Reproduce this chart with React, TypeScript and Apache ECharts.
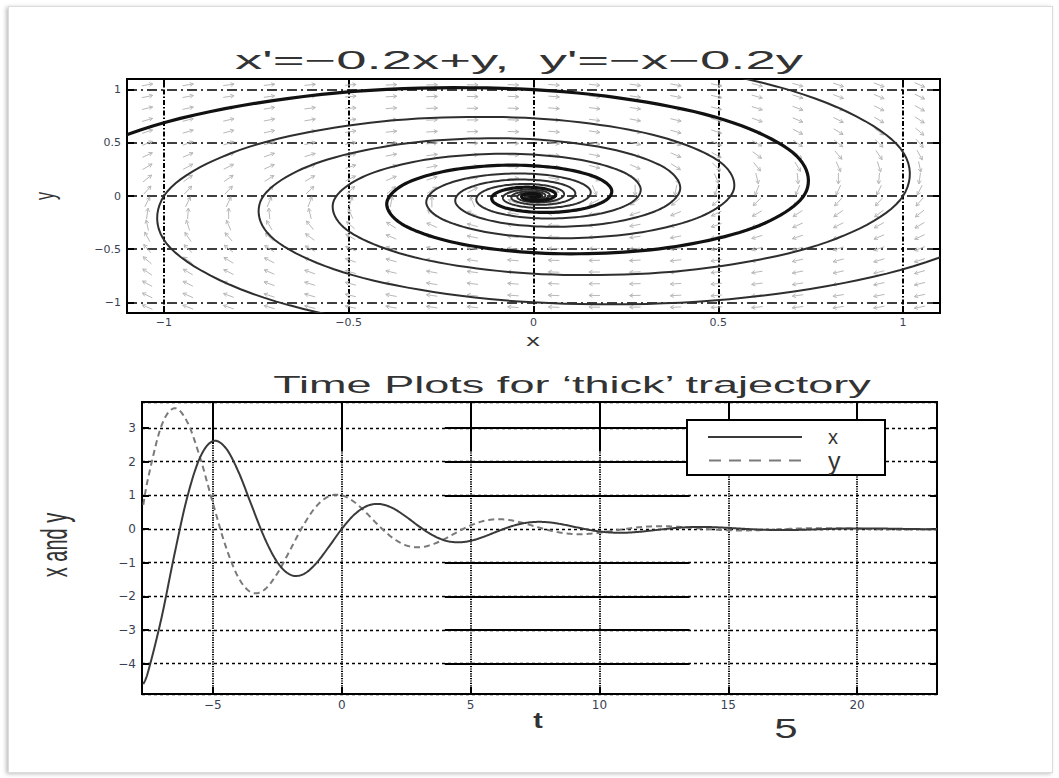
import React, { useEffect, useRef } from "react";
import * as echarts from "echarts";

// ---- time samples of the 'thick' trajectory ----
const tValues = [
  -7.7, -7.5, -7, -6.5, -6, -5.5, -5, -4.5, -4, -3.5, -3, -2.5, -2, -1.5, -1, -0.5,
  0, 0.5, 1, 1.5, 2, 2.5, 3, 3.5, 4, 4.5, 5, 5.5, 6, 6.5, 7, 7.5,
  8, 8.5, 9, 9.5, 10, 10.5, 11, 11.5, 12, 12.5, 13, 13.5, 14, 14.5, 15, 15.5,
  16, 16.5, 17, 17.5, 18, 18.5, 19, 19.5, 20, 20.5, 21, 21.5, 22, 22.5, 23, 23.5,
];
const xValues = [
  -4.609, -4.204, -2.664, -0.789, 0.928, 2.119, 2.607, 2.404, 1.684, 0.706, -0.257, -0.987, -1.357, -1.347, -1.028, -0.53,
  0, 0.434, 0.689, 0.739, 0.61, 0.363, 0.077, -0.174, -0.34, -0.397, -0.353, -0.235, -0.084, 0.059, 0.162, 0.209,
  0.2, 0.146, 0.068, -0.011, -0.074, -0.108, -0.111, -0.088, -0.049, -0.005, 0.031, 0.054, 0.06, 0.051, 0.032, 0.009,
  -0.012, -0.026, -0.032, -0.03, -0.021, -0.009, 0.003, 0.012, 0.017, 0.017, 0.013, 0.006, 0.0, -0.005, -0.009, -0.009,
];
const yValues = [
  0.716, 1.553, 3.057, 3.583, 3.188, 2.129, 0.771, -0.518, -1.455, -1.886, -1.804, -1.321, -0.621, 0.095, 0.66, 0.97,
  1, 0.794, 0.442, 0.052, -0.279, -0.486, -0.543, -0.465, -0.294, -0.086, 0.104, 0.236, 0.289, 0.266, 0.186, 0.077,
  -0.029, -0.11, -0.151, -0.149, -0.114, -0.058, 0.0, 0.048, 0.077, 0.082, 0.067, 0.04, 0.008, -0.02, -0.038, -0.044,
  -0.039, -0.026, -0.009, 0.007, 0.018, 0.023, 0.022, 0.016, 0.008, -0.001, -0.008, -0.012, -0.012, -0.01, -0.005, -0.001,
];

// ---- tick labels ----
const phaseTicks = [-1, -0.5, 0, 0.5, 1];
const timeTicks = [-5, 0, 5, 10, 15, 20];
const xyTicks = [-4, -3, -2, -1, 0, 1, 2, 3];

// ---- direction field (x' = -0.2x + y, y' = -x - 0.2y) sample grid ----
const systemMatrix = [
  [-0.2, 1],
  [-1, -0.2],
];
const fieldXs = [
  -1.045, -0.935, -0.825, -0.715, -0.605, -0.495, -0.385, -0.275, -0.165, -0.055,
  0.055, 0.165, 0.275, 0.385, 0.495, 0.605, 0.715, 0.825, 0.935, 1.045,
];
const fieldYs = [
  -1.045, -0.935, -0.825, -0.715, -0.605, -0.495, -0.385, -0.275, -0.165, -0.055,
  0.055, 0.165, 0.275, 0.385, 0.495, 0.605, 0.715, 0.825, 0.935, 1.045,
];

// ---- solid grid runs visible in the scanned time plot: [t1, v1, t2, v2] ----
const solidGridRuns = [
  [-5, 3.77, -5, 2.55],
  [0, 3.77, 0, 2.3],
  [5, 3.77, 5, 2.3],
  [10, 3.77, 10, 2.3],
  [15, 3.77, 15, 3.2],
  [20, 3.77, 20, 3.2],
  [4, 3, 13.4, 3],
  [4, 2, 13.4, 2],
  [4, 1, 13.5, 1],
  [4, 0, 23.2, 0],
  [4, -1, 13.5, -1],
  [4, -2, 13.5, -2],
  [4, -3, 13.5, -3],
  [4, -4, 13.5, -4],
];

const FONT = "'Liberation Sans', Arial, Helvetica, sans-serif";
const TICK_FONT = "'DejaVu Sans', 'Liberation Sans', sans-serif";
const minusify = (s: string) => s.replace(/-/g, "\u2212");
const makeFormatter = (ticks: number[]) => (v: number) => {
  const hit = ticks.find((t) => Math.abs(t - v) < 1e-6);
  return hit === undefined ? "" : minusify(String(hit));
};

const label = (text: string, x: number, y: number, size: number, extra: any = {}, weight = "normal") => ({
  type: "text",
  x,
  y,
  ...extra,
  style: {
    text,
    font: `${weight} ${size}px ${FONT}`,
    fill: "#333",
    align: "center",
    verticalAlign: "middle",
    textAlign: "center",
    textVerticalAlign: "middle",
  },
});

// Smooth curve through data points (Catmull-Rom in pixel space), drawn via the axes' scales.
const smoothCurve = (
  name: string,
  pts: number[][],
  axisIndex: number,
  color: string,
  width: number,
  dash: number[] | null,
  z: number
) => ({
  name,
  type: "custom",
  xAxisIndex: axisIndex,
  yAxisIndex: axisIndex,
  data: pts,
  clip: true,
  silent: true,
  z,
  itemStyle: { color },
  renderItem: (params: any, api: any) => {
    if (params.dataIndex !== 0) return null;
    const px = pts.map((p) => api.coord(p));
    const out: number[][] = [];
    const steps = 12;
    for (let i = 0; i < px.length - 1; i++) {
      const p0 = px[Math.max(0, i - 1)];
      const p1 = px[i];
      const p2 = px[i + 1];
      const p3 = px[Math.min(px.length - 1, i + 2)];
      for (let k = 0; k < steps; k++) {
        const s = k / steps;
        const s2 = s * s;
        const s3 = s2 * s;
        const cr = (j: number) =>
          0.5 *
          (2 * p1[j] +
            (-p0[j] + p2[j]) * s +
            (2 * p0[j] - 5 * p1[j] + 4 * p2[j] - p3[j]) * s2 +
            (-p0[j] + 3 * p1[j] - 3 * p2[j] + p3[j]) * s3);
        out.push([cr(0), cr(1)]);
      }
    }
    out.push(px[px.length - 1]);
    const style: any = { stroke: color, lineWidth: width, fill: "none", lineJoin: "round" };
    if (dash) style.lineDash = dash;
    return { type: "polyline", shape: { points: out }, style };
  },
});

export default function App() {
  const ref = useRef<HTMLDivElement>(null);

  useEffect(() => {
    const el = ref.current!;
    const chart = echarts.init(el, null, { renderer: "svg" });

    const trajA = tValues.map((_, i) => [xValues[i], yValues[i]]);
    const trajB = tValues.map((_, i) => [yValues[i], -xValues[i]]);
    const trajC = tValues.map((_, i) => [-xValues[i], -yValues[i]]);
    const trajD = tValues.map((_, i) => [-yValues[i], xValues[i]]);
    const xSeries = tValues.map((t, i) => [t, xValues[i]]);
    const ySeries = tValues.map((t, i) => [t, yValues[i]]);

    const fieldData: number[][] = [];
    fieldXs.forEach((fx) => fieldYs.forEach((fy) => fieldData.push([fx, fy])));

    const labelStyle = { color: "#3a3f55", fontSize: 11, fontFamily: TICK_FONT };
    const innerTick = { show: true, inside: true, length: 7, lineStyle: { color: "#000", width: 2 } };
    const hiddenLine = { show: false, onZero: false };
    const mirrorAxis = (gridIndex: number, min: number, max: number, splitNumber: number, position: string) => ({
      type: "value",
      gridIndex,
      min,
      max,
      splitNumber,
      position,
      axisLine: hiddenLine,
      axisTick: innerTick,
      axisLabel: { show: false },
      splitLine: { show: false },
    });

    const option: any = {
      animation: false,
      backgroundColor: "transparent",
      grid: [
        { left: 127, right: 119, top: 79, height: 234, show: true, borderColor: "#000", borderWidth: 2, backgroundColor: "#fff" },
        { left: 142, right: 122, top: 402, height: 292, show: true, borderColor: "#000", borderWidth: 2, backgroundColor: "#fff" },
      ],
      xAxis: [
        {
          type: "value", gridIndex: 0, min: -1.1, max: 1.1, splitNumber: 5, position: "bottom",
          axisLine: hiddenLine,
          axisTick: innerTick,
          axisLabel: { ...labelStyle, margin: 4, formatter: makeFormatter(phaseTicks) },
          splitLine: { show: true, lineStyle: { color: "#000", width: 2, type: [5, 2, 1.5, 2] } },
        },
        {
          type: "value", gridIndex: 1, min: -7.75, max: 23.1, splitNumber: 5, position: "bottom",
          axisLine: hiddenLine,
          axisTick: innerTick,
          axisLabel: { ...labelStyle, fontSize: 12, margin: 5, formatter: makeFormatter(timeTicks) },
          splitLine: { show: true, lineStyle: { color: "#000", width: 2, type: [1.2, 1.2] } },
        },
        mirrorAxis(0, -1.1, 1.1, 5, "top"),
        mirrorAxis(1, -7.75, 23.1, 5, "top"),
      ],
      yAxis: [
        {
          type: "value", gridIndex: 0, min: -1.1, max: 1.1, splitNumber: 5, position: "left",
          axisLine: hiddenLine,
          axisTick: innerTick,
          axisLabel: { ...labelStyle, margin: 6, formatter: makeFormatter(phaseTicks) },
          splitLine: { show: true, lineStyle: { color: "#000", width: 1.6, type: [10, 4, 2, 4] } },
        },
        {
          type: "value", gridIndex: 1, min: -4.9, max: 3.77, splitNumber: 8, position: "left",
          axisLine: hiddenLine,
          axisTick: innerTick,
          axisLabel: { ...labelStyle, fontSize: 12, margin: 6, formatter: makeFormatter(xyTicks) },
          splitLine: { show: true, lineStyle: { color: "#000", width: 1.4, type: [3, 3] } },
        },
        mirrorAxis(0, -1.1, 1.1, 5, "right"),
        mirrorAxis(1, -4.9, 3.77, 8, "right"),
      ],
      legend: {
        data: [
          { name: "x", icon: "path://M0,0H94V2H0Z" },
          { name: "y", icon: "path://M0,0H12V2H0ZM20,0H32V2H20ZM40,0H52V2H40ZM60,0H72V2H60ZM80,0H92V2H80Z" },
        ],
        orient: "vertical",
        left: 687,
        top: 420,
        itemWidth: 94,
        itemHeight: 2,
        itemGap: 1,
        backgroundColor: "#fff",
        borderColor: "#000",
        borderWidth: 2,
        padding: [7, 37, 2, 21],
        selectedMode: false,
        formatter: (n: string) => (n === "x" ? "{sx|x}" : "{sy|y}"),
        textStyle: {
          color: "#333",
          fontFamily: FONT,
          rich: {
            sx: { fontSize: 20, lineHeight: 22, width: 20, padding: [0, 0, 0, 21], color: "#333", fontFamily: FONT },
            sy: { fontSize: 25, lineHeight: 27, width: 20, padding: [0, 0, 0, 21], color: "#333", fontFamily: FONT },
          },
        },
        z: 10,
      },
      series: [
        {
          name: "field",
          type: "custom",
          xAxisIndex: 0,
          yAxisIndex: 0,
          data: fieldData,
          z: 3,
          silent: true,
          renderItem: (params: any, api: any) => {
            const x = api.value(0);
            const y = api.value(1);
            const vx = systemMatrix[0][0] * x + systemMatrix[0][1] * y;
            const vy = systemMatrix[1][0] * x + systemMatrix[1][1] * y;
            const p = api.coord([x, y]);
            const q = api.coord([x + vx * 0.01, y + vy * 0.01]);
            let dx = q[0] - p[0];
            let dy = q[1] - p[1];
            const n = Math.hypot(dx, dy) || 1;
            dx /= n;
            dy /= n;
            const L = 11;
            const tail = [p[0] - (dx * L) / 2, p[1] - (dy * L) / 2];
            const head = [p[0] + (dx * L) / 2, p[1] + (dy * L) / 2];
            const h = 4;
            const a = 0.5;
            const ca = Math.cos(a);
            const sa = Math.sin(a);
            const w1 = [head[0] - h * (dx * ca - dy * sa), head[1] - h * (dx * sa + dy * ca)];
            const w2 = [head[0] - h * (dx * ca + dy * sa), head[1] - h * (-dx * sa + dy * ca)];
            const st = { stroke: "#b8b8b8", lineWidth: 1, fill: "none" };
            return {
              type: "group",
              children: [
                { type: "polyline", shape: { points: [tail, head] }, style: st },
                { type: "polyline", shape: { points: [w1, head, w2] }, style: st },
              ],
            };
          },
        },
        smoothCurve("trajB", trajB, 0, "#2e2e2e", 2, null, 4),
        smoothCurve("trajC", trajC, 0, "#2e2e2e", 2, null, 4),
        smoothCurve("trajD", trajD, 0, "#2e2e2e", 2, null, 4),
        smoothCurve("trajA", trajA, 0, "#111", 3.2, null, 5),
        {
          name: "gridRuns",
          type: "line",
          xAxisIndex: 1,
          yAxisIndex: 1,
          data: [],
          silent: true,
          markLine: {
            silent: true,
            symbol: "none",
            label: { show: false },
            lineStyle: { color: "#000", width: 2, type: "solid" },
            data: solidGridRuns.map((r) => [{ coord: [r[0], r[1]] }, { coord: [r[2], r[3]] }]),
          },
          z: 2,
        },
        smoothCurve("y", ySeries, 1, "#7a7a7a", 2, [6, 4], 4),
        smoothCurve("x", xSeries, 1, "#3a3a3a", 2, null, 5),
      ],
      graphic: [
        label("x'=\u22120.2x+y,  y'=\u2212x\u22120.2y", 519, 60, 25, { scaleX: 2.18 }),
        label("Time Plots for \u2018thick\u2019 trajectory", 572, 385, 23, { scaleX: 1.96 }),
        label("x", 533, 340, 17, { scaleX: 1.6 }),
        label("y", 45, 196, 16, { rotation: Math.PI / 2, scaleY: 1.7 }),
        label("t", 538, 720, 22, { scaleX: 1.3 }, "bold"),
        label("x and y", 55, 545, 20, { rotation: Math.PI / 2, scaleY: 1.8 }),
        label("5", 786, 729, 28, { scaleX: 1.5 }),
      ],
    };

    chart.setOption(option);
    return () => chart.dispose();
  }, []);

  return (
    <div style={{ position: "fixed", left: 0, top: 0, width: 1059, height: 778, background: "#fff" }}>
      <div
        style={{
          position: "absolute",
          left: 8,
          top: 6,
          width: 1043,
          height: 765,
          border: "1px solid #dcdcdc",
          boxShadow: "-2px 1px 4px rgba(0,0,0,0.25)",
          background: "#fff",
        }}
      />
      <div ref={ref} style={{ position: "absolute", left: 0, top: 0, width: 1059, height: 778 }} />
    </div>
  );
}
